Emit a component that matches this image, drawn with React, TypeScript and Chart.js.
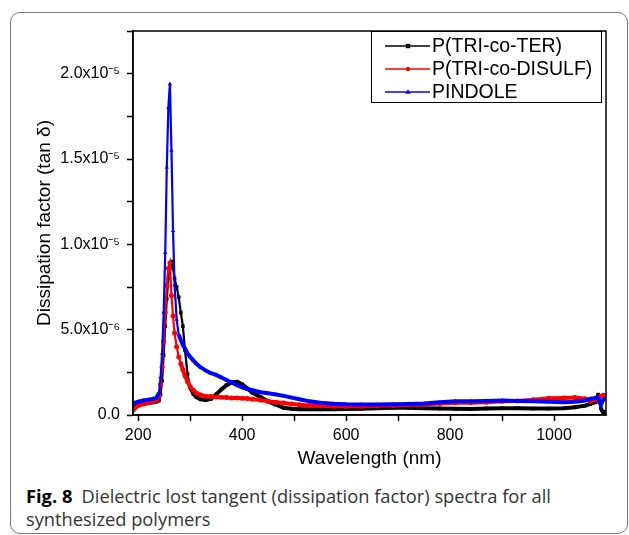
import React, { useEffect, useRef } from 'react';
import { Chart, registerables } from 'chart.js';

Chart.register(...registerables);

// Wavelength (nm)
const wavelengths = [
  190, 200, 210, 220, 230, 235, 240, 243, 246, 249, 252, 255, 258, 261, 264, 267, 270, 274, 278, 282,
  286, 290, 295, 300, 306, 312, 320, 330, 340, 350, 360, 370, 380, 390, 400, 410, 420, 435, 450, 465,
  480, 495, 510, 530, 550, 575, 600, 630, 660, 690, 720, 750, 780, 810, 840, 870, 900, 930, 960, 990,
  1020, 1040, 1060, 1070, 1080, 1085, 1090, 1095, 1100,
];

// Dissipation factor, in units of 1e-6
const terValues = [
  0.55, 0.6, 0.65, 0.7, 0.75, 0.78, 0.85, 1.2, 2.0, 3.5, 5.2, 6.8, 8.0, 8.8, 9.0, 8.6, 8.0, 7.5, 6.9, 6.0,
  5.2, 3.8, 2.4, 1.6, 1.25, 1.05, 0.92, 0.88, 0.95, 1.2, 1.5, 1.75, 1.92, 1.95, 1.8, 1.55, 1.3, 1.05, 0.8, 0.6,
  0.42, 0.36, 0.34, 0.33, 0.33, 0.34, 0.35, 0.37, 0.4, 0.42, 0.42, 0.4, 0.38, 0.36, 0.35, 0.38, 0.4, 0.4, 0.38, 0.38,
  0.4, 0.45, 0.55, 0.65, 0.75, 1.2, 0.4, 0.1, 0.2,
];
const disulfValues = [
  0.3, 0.55, 0.65, 0.72, 0.8, 0.85, 1.1, 1.8, 2.8, 4.3, 6.0, 7.6, 8.6, 8.9, 7.0, 5.8, 4.8, 4.0, 3.4, 3.0,
  2.65, 2.3, 1.95, 1.65, 1.45, 1.28, 1.17, 1.1, 1.08, 1.06, 1.04, 1.02, 1.0, 0.99, 0.98, 0.96, 0.93, 0.88, 0.8, 0.75,
  0.7, 0.65, 0.6, 0.56, 0.54, 0.52, 0.52, 0.52, 0.54, 0.56, 0.58, 0.62, 0.68, 0.72, 0.72, 0.75, 0.8, 0.82, 0.9, 0.98,
  1.0, 1.02, 0.95, 0.8, 0.9, 1.0, 1.1, 1.15, 1.1,
];
const pindoleValues = [
  0.68, 0.78, 0.85, 0.9, 0.95, 1.0, 1.3, 2.2, 3.6, 6.0, 9.5, 14.5, 18.0, 19.4, 15.5, 10.8, 7.6, 5.6, 4.7, 4.4,
  4.1, 3.9, 3.6, 3.4, 3.2, 3.0, 2.8, 2.6, 2.45, 2.35, 2.2, 2.05, 1.9, 1.75, 1.62, 1.52, 1.45, 1.33, 1.27, 1.2,
  1.12, 1.02, 0.92, 0.8, 0.72, 0.66, 0.63, 0.62, 0.62, 0.63, 0.65, 0.68, 0.75, 0.8, 0.8, 0.82, 0.85, 0.82, 0.8, 0.78,
  0.75, 0.78, 0.85, 0.95, 1.0, 1.0, 0.6, 0.9, 1.0,
];

const seriesLabels = ['P(TRI-co-TER)', 'P(TRI-co-DISULF)', 'PINDOLE'];

const xTickValues = [200, 300, 400, 500, 600, 700, 800, 900, 1000];
const xTickLabels = ['200', '', '400', '', '600', '', '800', '', '1000'];
const yTickValues = [0, 2.5e-6, 5e-6, 7.5e-6, 1e-5, 1.25e-5, 1.5e-5, 1.75e-5, 2e-5, 2.25e-5];
const yTickLabels = ['0.0', '', '5.0x10⁻⁶', '', '1.0x10⁻⁵', '', '1.5x10⁻⁵', '', '2.0x10⁻⁵', ''];

const FONT = '"Liberation Sans", Arial, Helvetica, sans-serif';

function toPoints(values: number[]) {
  return wavelengths.map((w, i) => ({ x: w, y: values[i] * 1e-6 }));
}

function drawMarker(ctx: CanvasRenderingContext2D, style: string, x: number, y: number, r: number) {
  ctx.beginPath();
  if (style === 'rect') {
    ctx.rect(x - r, y - r, 2 * r, 2 * r);
  } else if (style === 'triangle') {
    ctx.moveTo(x, y - r * 1.3);
    ctx.lineTo(x + r * 1.2, y + r * 0.8);
    ctx.lineTo(x - r * 1.2, y + r * 0.8);
    ctx.closePath();
  } else {
    ctx.arc(x, y, r, 0, Math.PI * 2);
  }
  ctx.fill();
}

const framePlugin = {
  id: 'frame',
  afterDatasetsDraw(chart: any) {
    const { ctx, chartArea } = chart;
    ctx.save();
    ctx.strokeStyle = '#000';
    ctx.lineWidth = 1.5;
    ctx.strokeRect(chartArea.left, chartArea.top, chartArea.right - chartArea.left, chartArea.bottom - chartArea.top);
    ctx.restore();
  },
};

const boxLegendPlugin = {
  id: 'boxLegend',
  afterDraw(chart: any) {
    const ctx: CanvasRenderingContext2D = chart.ctx;
    ctx.save();
    ctx.fillStyle = '#fff';
    ctx.fillRect(371, 31, 230, 71);
    ctx.strokeStyle = '#000';
    ctx.lineWidth = 1;
    ctx.strokeRect(371.5, 31.5, 230, 71);
    chart.data.datasets.forEach((ds: any, i: number) => {
      const y = 46 + 23 * i;
      ctx.strokeStyle = ds.borderColor;
      ctx.lineWidth = 1.5;
      ctx.beginPath();
      ctx.moveTo(385, y);
      ctx.lineTo(430, y);
      ctx.stroke();
      ctx.fillStyle = ds.borderColor;
      drawMarker(ctx, ds.pointStyle, 408, y, 2.2);
      ctx.fillStyle = '#000';
      ctx.font = `19.5px ${FONT}`;
      ctx.textBaseline = 'middle';
      ctx.textAlign = 'left';
      ctx.fillText(ds.label, 432, y + 1);
    });
    ctx.restore();
  },
};

export default function App() {
  const canvasRef = useRef<HTMLCanvasElement | null>(null);

  useEffect(() => {
    if (!canvasRef.current) return;
    const colors = ['#000000', '#ff0000', '#0000ff'];
    const styles = ['rect', 'circle', 'triangle'];
    const values = [terValues, disulfValues, pindoleValues];
    const orders = [2, 1, 0];
    const chart = new Chart(canvasRef.current, {
      type: 'line',
      data: {
        datasets: values.map((v, i) => ({
          label: seriesLabels[i],
          data: toPoints(v),
          borderColor: colors[i],
          backgroundColor: colors[i],
          borderWidth: 4,
          segment: {
            borderWidth: (c: any) => {
              const dx = Math.abs(c.p1.x - c.p0.x);
              const dy = Math.abs(c.p1.y - c.p0.y);
              return dy > 3 * dx ? 2.2 : 4;
            },
          },
          pointStyle: styles[i],
          pointRadius: 2.5,
          pointHoverRadius: 2.5,
          pointBorderWidth: 0,
          tension: 0,
          order: orders[i],
        })),
      },
      options: {
        animation: false,
        responsive: false,
        events: [],
        layout: { padding: { left: 0, top: 31, right: 23, bottom: 0 } },
        plugins: {
          legend: { display: false },
          tooltip: { enabled: false },
        },
        scales: {
          x: {
            type: 'linear',
            min: 190,
            max: 1100,
            afterBuildTicks: (scale: any) => {
              scale.ticks = xTickValues.map((v) => ({ value: v }));
            },
            afterFit: (scale: any) => {
              scale.height = 65;
            },
            ticks: {
              autoSkip: false,
              maxRotation: 0,
              color: '#000',
              font: { size: 16, family: FONT },
              padding: 5,
              callback: (_v: any, index: number) => xTickLabels[index],
            },
            grid: {
              drawOnChartArea: false,
              drawTicks: true,
              tickLength: 6,
              tickWidth: 1.5,
              tickColor: '#000',
            },
            border: { display: true, color: '#000', width: 1.5 },
            title: {
              display: true,
              text: 'Wavelength (nm)',
              color: '#000',
              font: { size: 19, family: FONT },
              padding: { top: 0, bottom: 10 },
            },
          },
          y: {
            type: 'linear',
            min: 0,
            max: 2.25e-5,
            afterBuildTicks: (scale: any) => {
              scale.ticks = yTickValues.map((v) => ({ value: v }));
            },
            afterFit: (scale: any) => {
              scale.width = 133;
            },
            ticks: {
              autoSkip: false,
              color: '#000',
              font: { size: 16, family: FONT },
              padding: 7,
              callback: (_v: any, index: number) => yTickLabels[index],
            },
            grid: {
              drawOnChartArea: false,
              drawTicks: true,
              tickLength: 6,
              tickWidth: 1.5,
              tickColor: '#000',
            },
            border: { display: true, color: '#000', width: 1.5 },
            title: {
              display: true,
              text: 'Dissipation factor (tan δ)',
              color: '#000',
              font: { size: 19, family: FONT },
              padding: { top: 33, bottom: 0 },
            },
          },
        },
      },
      plugins: [framePlugin, boxLegendPlugin],
    } as any);
    return () => chart.destroy();
  }, []);

  return (
    <div style={{ position: 'fixed', left: 0, top: 0, width: 629, height: 535, background: '#fff', overflow: 'hidden' }}>
      <div
        style={{
          position: 'absolute',
          left: 10,
          top: 12,
          width: 618,
          height: 522,
          boxSizing: 'border-box',
          border: '1.5px solid #777',
          borderRadius: 10,
        }}
      />
      <canvas
        ref={canvasRef}
        width={629}
        height={480}
        style={{ position: 'absolute', left: 0, top: 0, width: 629, height: 480 }}
      />
      <div
        style={{
          position: 'absolute',
          left: 26,
          top: 484,
          width: 600,
          fontFamily: '"Open Sans", "Noto Sans", sans-serif',
          fontSize: 18.3,
          lineHeight: '23px',
          color: '#333',
          whiteSpace: 'nowrap',
        }}
      >
        <span style={{ fontWeight: 700, color: '#000' }}>Fig. 8</span>
        {'\u2002'}Dielectric lost tangent (dissipation factor) spectra for all
        <br />
        synthesized polymers
      </div>
    </div>
  );
}
